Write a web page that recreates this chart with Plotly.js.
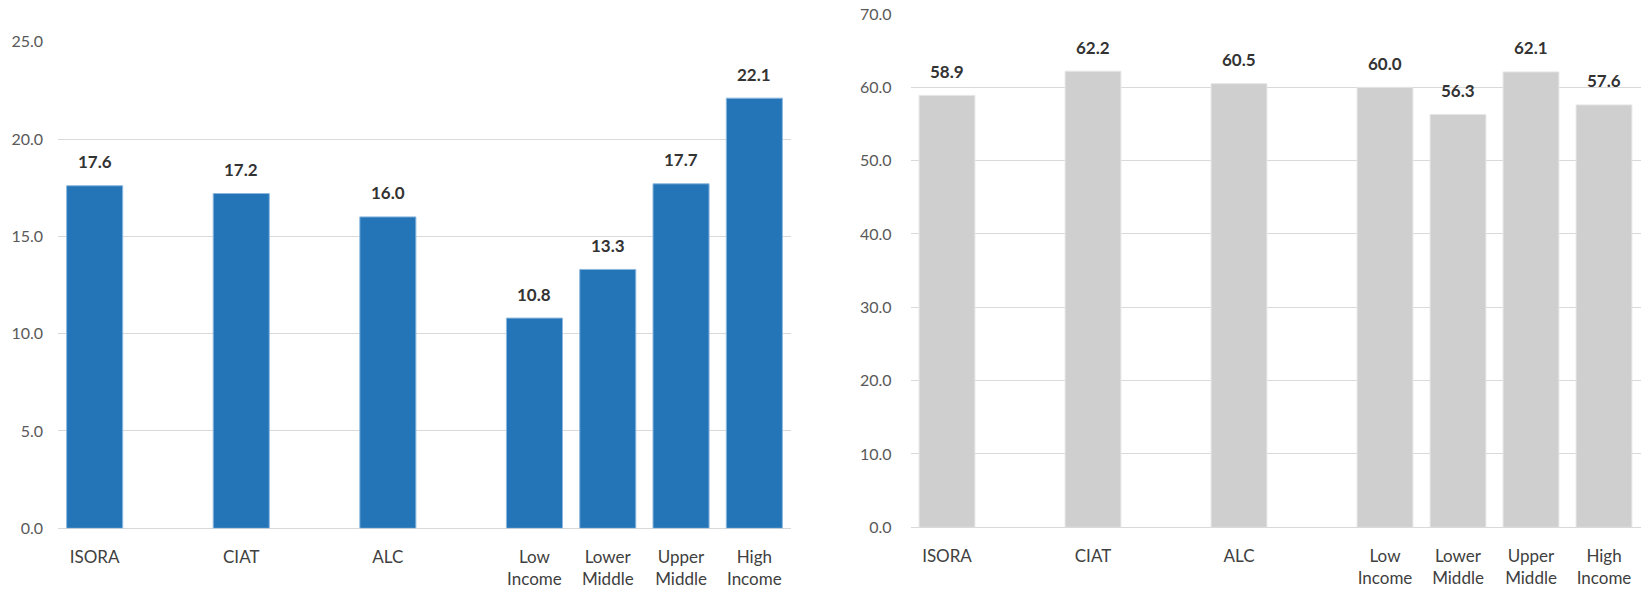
<!DOCTYPE html>
<html>
<head>
<meta charset="utf-8">
<script src="https://cdn.plot.ly/plotly-3.0.1.min.js"></script>
<style>
html,body{margin:0;padding:0;background:#fff;}
#chart{width:1642px;height:590px;}
</style>
</head>
<body>
<div id="chart"></div>
<script>
// Data
const categories = ["ISORA", "CIAT", "ALC", "Low<br>Income", "Lower<br>Middle", "Upper<br>Middle", "High<br>Income"];
const leftValues = [17.6, 17.2, 16.0, 10.8, 13.3, 17.7, 22.1];
const rightValues = [58.9, 62.2, 60.5, 60.0, 56.3, 62.1, 57.6];
const leftTicks = [0, 5, 10, 15, 20, 25];
const rightTicks = [0, 10, 20, 30, 40, 50, 60, 70];

// category order with blank spacer slots between the groups
const categoryOrder = [categories[0], " ", categories[1], "  ", categories[2], "   ",
  categories[3], categories[4], categories[5], categories[6]];

const FONT = "Lato, 'Noto Sans', sans-serif";

const traces = [
  {
    type: "bar", x: categories, y: leftValues, xaxis: "x", yaxis: "y",
    marker: {color: "#2475B8", line: {color: "#8db8de", width: 1}},
    hoverinfo: "skip", showlegend: false
  },
  {
    type: "bar", x: categories, y: rightValues, xaxis: "x2", yaxis: "y2",
    marker: {color: "#D0CFD0", line: {color: "#e6e6e6", width: 1}},
    hoverinfo: "skip", showlegend: false
  }
];

function labels(vals, xref, yref) {
  return vals.map((v, i) => ({
    x: categories[i], y: v, xref: xref, yref: yref,
    text: v.toFixed(1), showarrow: false,
    yanchor: "middle", yshift: 24,
    font: {family: FONT, size: 17, color: "#333333", weight: "bold"}
  }));
}

const xCommon = {
  type: "category", categoryorder: "array", categoryarray: categoryOrder,
  range: [-0.5, 9.5], showgrid: false, zeroline: false, showline: false,
  ticks: "", ticklabelstandoff: 17, automargin: false,
  tickfont: {family: FONT, size: 17, color: "#404040"}
};
const yCommon = {
  showgrid: true, gridcolor: "#d9d9d9", gridwidth: 1,
  zeroline: true, zerolinecolor: "#d9d9d9", zerolinewidth: 1.5,
  showline: false, ticks: "", tickformat: ".1f", automargin: false,
  tickfont: {family: FONT, size: 16, color: "#595959"}
};

const layout = {
  width: 1642, height: 590,
  margin: {l: 0, r: 0, t: 0, b: 0},
  paper_bgcolor: "#ffffff", plot_bgcolor: "#ffffff",
  bargap: 0.235,
  font: {family: FONT},
  xaxis: Object.assign({}, xCommon, {domain: [58 / 1642, 791 / 1642], anchor: "y"}),
  xaxis2: Object.assign({}, xCommon, {domain: [910.5 / 1642, 1640.5 / 1642], anchor: "y2"}),
  yaxis: Object.assign({}, yCommon, {
    domain: [(590 - 528.3) / 590, (590 - 41.7) / 590], range: [0, 25],
    tickvals: leftTicks, anchor: "x", ticklabelstandoff: 14
  }),
  yaxis2: Object.assign({}, yCommon, {
    domain: [(590 - 527.3) / 590, (590 - 14) / 590], range: [0, 70],
    tickvals: rightTicks, anchor: "x2", ticklabelstandoff: 18
  }),
  annotations: labels(leftValues, "x", "y").concat(labels(rightValues, "x2", "y2"))
};

Plotly.newPlot("chart", traces, layout, {displayModeBar: false, staticPlot: true});
</script>
</body>
</html>
